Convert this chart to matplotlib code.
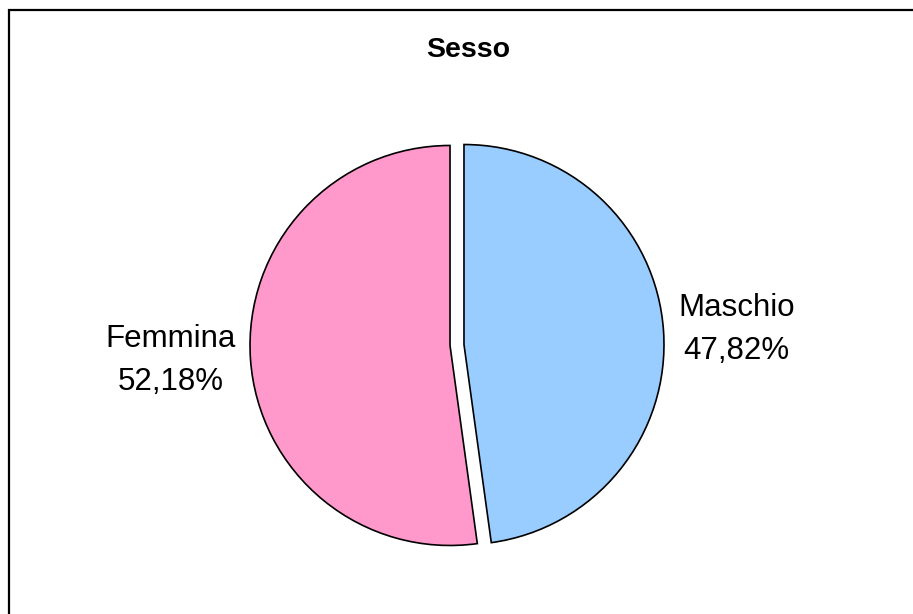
import matplotlib
matplotlib.use("Agg")
import matplotlib.pyplot as plt
from matplotlib.patches import Rectangle

# data
categories = ["Maschio", "Femmina"]
values = [47.82, 52.18]
colors = ["#99CCFF", "#FF99CC"]
title = "Sesso"

W, H = 913, 614
cx, cy, R = 457, 345, 200  # pie centre / radius in pixels

plt.rcParams["font.family"] = ["Liberation Sans", "DejaVu Sans"]

fig = plt.figure(figsize=(W / 100, H / 100), dpi=100)
ax = fig.add_axes([0, 0, 1, 1])

labels = [f"{c}\n{v:.2f}%".replace(".", ",") for c, v in zip(categories, values)]

ax.pie(values, labels=labels, colors=colors, startangle=90, counterclock=False,
       explode=[0.035, 0.035], labeldistance=1.075,
       wedgeprops={"edgecolor": "black", "linewidth": 1.2},
       textprops={"fontsize": 22.5, "multialignment": "center", "linespacing": 1.55})

ax.set_xlim(-cx / R, (W - cx) / R)
ax.set_ylim(-(H - cy) / R, cy / R)
ax.set_aspect("equal")
ax.axis("off")

fig.text(468 / W, 1 - 50 / H, title, ha="center", va="center",
         fontsize=20.5, fontweight="bold")

# chart frame
fig.patches.append(Rectangle((8.5 / W, -0.1), 1.2, 1 - 9.5 / H + 0.1,
                             transform=fig.transFigure, fill=False,
                             edgecolor="black", linewidth=1.6))

fig.savefig("out.png", dpi=100)
